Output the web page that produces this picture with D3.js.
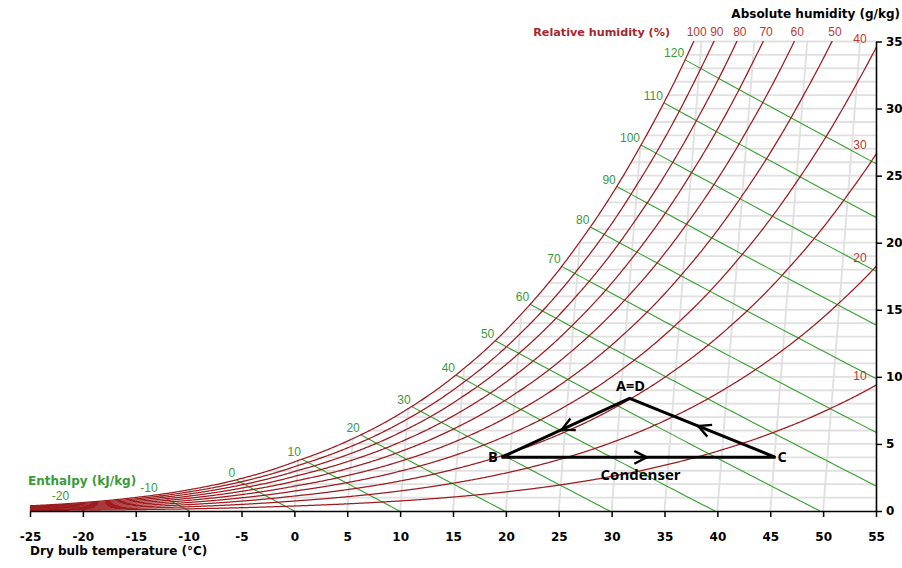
<!DOCTYPE html>
<html>
<head>
<meta charset="utf-8">
<script src="https://cdn.jsdelivr.net/npm/d3@7"></script>
<style>
  body { margin: 0; background: #fff; }
  svg { display: block; }
</style>
</head>
<body>
<svg id="chart" width="902" height="568"></svg>
<script>
// ---- Data -----------------------------------------------------------------
// Saturation vapour pressure of water (kPa), over ice below 0 °C
const satTemps    = [-30, -25, -20, -15, -10, -5, 0, 5, 10, 15, 20, 25, 30, 35, 40, 45, 50, 55, 60, 65];
const satPressure = [0.03802, 0.06329, 0.10326, 0.16530, 0.25990, 0.40176, 0.61115, 0.87257, 1.2282,
                     1.7058, 2.3392, 3.1697, 4.2467, 5.6286, 7.3844, 9.5944, 12.351, 15.761, 19.946, 25.041];
const atmPressure = 101.325;            // kPa

const rhLevels       = [100, 90, 80, 70, 60, 50, 40, 30, 20, 10];                       // %
const enthalpyLevels = [-20, -10, 0, 10, 20, 30, 40, 50, 60, 70, 80, 90, 100, 110, 120]; // kJ/kg
const tempTicks      = [-25, -20, -15, -10, -5, 0, 5, 10, 15, 20, 25, 30, 35, 40, 45, 50, 55];
const humidityTicks  = [0, 5, 10, 15, 20, 25, 30, 35];

// Refrigeration cycle states (dry bulb °C, absolute humidity g/kg)
const cycleNames = ["A=D", "B", "C"];
const cycleTemps = [31.7, 19.6, 45.5];
const cycleHum   = [8.4, 4.0, 4.0];
const cycleLegs  = [["A=D", "B"], ["B", "C"], ["C", "A=D"]];

// ---- Psychrometrics -------------------------------------------------------
const skew = 0.1;   // isotherm lean of the chart (°C per g/kg)

function pws(t) {
  let i = d3.bisectRight(satTemps, t) - 1;
  i = Math.max(0, Math.min(satTemps.length - 2, i));
  const f = (t - satTemps[i]) / (satTemps[i + 1] - satTemps[i]);
  return Math.exp(Math.log(satPressure[i]) * (1 - f) + Math.log(satPressure[i + 1]) * f);
}
function humidityAt(t, rh) {
  const pv = rh / 100 * pws(t);
  return 622 * pv / (atmPressure - pv);
}
function enthalpy(t, w) { return 1.006 * t + w * (2.501 + 0.00186 * t); }
function tempFromEnthalpy(h, w) { return (h - 2.501 * w) / (1.006 + 0.00186 * w); }
function chartX(t, w) { return t + skew * w; }

// ---- Scales ---------------------------------------------------------------
const x = d3.scaleLinear().domain([-25, 55]).range([30, 876]);
const y = d3.scaleLinear().domain([0, 35]).range([511, 41.5]);

const svg = d3.select("#chart");
const defs = svg.append("defs");

const plotLeft = x(-25), plotRight = x(55), plotTop = y(35), plotBottom = y(0);

defs.append("clipPath").attr("id", "plot-clip")
  .append("rect")
  .attr("x", plotLeft).attr("y", plotTop - 0.6)
  .attr("width", plotRight - plotLeft).attr("height", plotBottom - plotTop + 0.6);

// Region under the saturation curve (grid lives only there)
const satPts = [];
for (let t = -26; t <= 40; t += 0.1) {
  const w = humidityAt(t, 100);
  if (w > 35.3) break;
  satPts.push([x(chartX(t, w)), y(w)]);
}
const satPoly = satPts.concat([[plotRight, y(35.3)], [plotRight, plotBottom + 1], [plotLeft - 2, plotBottom + 1]]);
defs.append("clipPath").attr("id", "sat-clip")
  .append("path").attr("d", "M" + satPoly.map(p => p.join(",")).join("L") + "Z");

const line = d3.line().x(d => x(d.X)).y(d => y(d.w));

// ---- Grid -----------------------------------------------------------------
const grid = svg.append("g").attr("clip-path", "url(#sat-clip)")
  .attr("stroke", "#e0e0e0").attr("stroke-width", 1.8).attr("fill", "none");

grid.selectAll("line.h").data(d3.range(1, 36)).join("line")
  .attr("class", "h")
  .attr("x1", plotLeft).attr("x2", plotRight)
  .attr("y1", d => y(d)).attr("y2", d => y(d));

grid.selectAll("line.v").data(tempTicks).join("line")
  .attr("class", "v")
  .attr("x1", d => x(chartX(d, 0))).attr("y1", y(0))
  .attr("x2", d => x(chartX(d, 35))).attr("y2", y(35));

// ---- Enthalpy lines -------------------------------------------------------
function satTempForEnthalpy(h) {
  let lo = -35, hi = 60;
  for (let k = 0; k < 60; k++) {
    const mid = (lo + hi) / 2;
    if (enthalpy(mid, humidityAt(mid, 100)) < h) lo = mid; else hi = mid;
  }
  return (lo + hi) / 2;
}
const enthalpyLines = enthalpyLevels.map(h => {
  const ts = satTempForEnthalpy(h);
  const ws = humidityAt(ts, 100);
  const pts = d3.range(0, 41).map(i => {
    const w = ws * (1 - i / 40);
    return { X: chartX(tempFromEnthalpy(h, w), w), w };
  });
  return { h, pts, start: { X: chartX(ts, ws), w: ws } };
});

const hGroup = svg.append("g").attr("clip-path", "url(#plot-clip)");
hGroup.selectAll("path").data(enthalpyLines).join("path")
  .attr("d", d => line(d.pts))
  .attr("fill", "none").attr("stroke", "#34a02e").attr("stroke-width", 1.1);

svg.append("g").selectAll("text").data(enthalpyLines).join("text")
  .attr("x", d => x(d.start.X) - 1)
  .attr("y", d => y(d.start.w) - 3)
  .attr("text-anchor", "end")
  .attr("font-family", "'Liberation Sans', Arial, sans-serif")
  .attr("font-size", 12)
  .attr("fill", "#3a9a3a")
  .text(d => d.h);

// ---- Relative humidity curves --------------------------------------------
const rhCurves = rhLevels.map(rh => {
  const pts = [];
  for (let t = -26; t <= 62; t += 0.1) {
    const w = humidityAt(t, rh);
    pts.push({ X: chartX(t, w), w });
  }
  // where the curve leaves the plot (top edge or right edge)
  let end = null;
  for (let i = 1; i < pts.length && !end; i++) {
    const a = pts[i - 1], b = pts[i];
    const fTop = b.w >= 35 ? (35 - a.w) / (b.w - a.w) : Infinity;
    const fRight = b.X >= 55 ? (55 - a.X) / (b.X - a.X) : Infinity;
    const f = Math.min(fTop, fRight);
    if (isFinite(f)) {
      end = { X: a.X + f * (b.X - a.X), w: a.w + f * (b.w - a.w), side: fTop <= fRight ? "top" : "right" };
    }
  }
  return { rh, pts, end };
});

const rhGroup = svg.append("g").attr("clip-path", "url(#plot-clip)");
rhGroup.selectAll("path").data(rhCurves).join("path")
  .attr("d", d => line(d.pts))
  .attr("fill", "none").attr("stroke", "#9c1c1f").attr("stroke-width", 1.25);

const rhLabels = svg.append("g")
  .attr("font-family", "'Liberation Sans', Arial, sans-serif")
  .attr("font-size", 12)
  .attr("fill", "#b83a35")
  .attr("text-anchor", "middle");
rhLabels.selectAll("text").data(rhCurves).join("text")
  .attr("x", d => d.end.side === "top" ? x(d.end.X) + 3 : plotRight - 16)
  .attr("y", d => d.end.side === "top" ? 36 : y(d.end.w) - 5)
  .text(d => d.rh);

svg.append("text")
  .attr("x", 670).attr("y", 36)
  .attr("text-anchor", "end")
  .attr("font-family", "'DejaVu Sans', sans-serif").attr("font-weight", "bold")
  .attr("font-size", 11.2).attr("fill", "#a3282d")
  .text("Relative humidity (%)");

// ---- Axes -----------------------------------------------------------------
const plain = d => String(d);
const xAxis = svg.append("g")
  .attr("transform", `translate(0,${plotBottom})`)
  .call(d3.axisBottom(x).tickValues(tempTicks).tickSize(6).tickSizeOuter(0).tickPadding(15).tickFormat(plain));

const yAxis = svg.append("g")
  .attr("transform", `translate(${plotRight},0)`)
  .call(d3.axisRight(y).tickValues(humidityTicks).tickSize(6).tickSizeOuter(0).tickPadding(4).tickFormat(plain));

[xAxis, yAxis].forEach(g => {
  g.attr("font-family", "'DejaVu Sans', sans-serif").attr("font-size", 12);
  g.selectAll("text").attr("font-weight", "bold").attr("fill", "#000");
  g.selectAll("line").attr("stroke", "#000").attr("stroke-width", 1.5);
  g.select(".domain").attr("stroke", "#000").attr("stroke-width", 1.6);
});

svg.append("text")
  .attr("x", 30).attr("y", 555)
  .attr("font-family", "'DejaVu Sans', sans-serif").attr("font-weight", "bold")
  .attr("font-size", 12).attr("fill", "#000")
  .text("Dry bulb temperature (°C)");

svg.append("text")
  .attr("x", 900).attr("y", 18)
  .attr("text-anchor", "end")
  .attr("font-family", "'DejaVu Sans', sans-serif").attr("font-weight", "bold")
  .attr("font-size", 12).attr("fill", "#000")
  .text("Absolute humidity (g/kg)");

svg.append("text")
  .attr("x", 28).attr("y", 485)
  .attr("font-family", "'DejaVu Sans', sans-serif").attr("font-weight", "bold")
  .attr("font-size", 12).attr("fill", "#3a9a3a")
  .text("Enthalpy (kJ/kg)");

// ---- Refrigeration cycle --------------------------------------------------
const states = {};
cycleNames.forEach((n, i) => { states[n] = [x(cycleTemps[i]), y(cycleHum[i])]; });

const cycle = svg.append("g").attr("fill", "none").attr("stroke", "#000");
cycle.append("path")
  .attr("d", "M" + cycleLegs.map(l => states[l[0]].join(",")).join("L") + "Z")
  .attr("stroke-width", 3).attr("stroke-linejoin", "miter");

const armLen = 14, armAngle = 27 * Math.PI / 180;
cycleLegs.forEach(([a, b]) => {
  const p0 = states[a], p1 = states[b];
  const dx = p1[0] - p0[0], dy = p1[1] - p0[1];
  const len = Math.hypot(dx, dy);
  const ux = dx / len, uy = dy / len;
  const tip = [p0[0] + dx * 0.53, p0[1] + dy * 0.53];
  const arm = s => {
    const c = Math.cos(s * armAngle), sn = Math.sin(s * armAngle);
    const rx = ux * c - uy * sn, ry = ux * sn + uy * c;
    return [tip[0] - armLen * rx, tip[1] - armLen * ry];
  };
  cycle.append("path")
    .attr("d", `M${arm(1).join(",")}L${tip.join(",")}L${arm(-1).join(",")}`)
    .attr("stroke-width", 2.4).attr("stroke-linejoin", "miter");
});

const labelFont = "'Open Sans', sans-serif";
const lab = svg.append("g").attr("font-family", labelFont).attr("font-weight", 700).attr("fill", "#000");
lab.append("text").attr("x", states["A=D"][0] + 1).attr("y", states["A=D"][1] - 7)
  .attr("text-anchor", "middle").attr("font-size", 14.5).text("A=D");
lab.append("text").attr("x", states["B"][0] - 4).attr("y", states["B"][1] + 5)
  .attr("text-anchor", "end").attr("font-size", 14.5).text("B");
lab.append("text").attr("x", states["C"][0] + 2).attr("y", states["C"][1] + 5)
  .attr("text-anchor", "start").attr("font-size", 14.5).text("C");
lab.append("text").attr("x", (states["B"][0] + states["C"][0]) / 2 + 2).attr("y", states["B"][1] + 23)
  .attr("text-anchor", "middle").attr("font-size", 15).text("Condenser");
</script>
</body>
</html>
